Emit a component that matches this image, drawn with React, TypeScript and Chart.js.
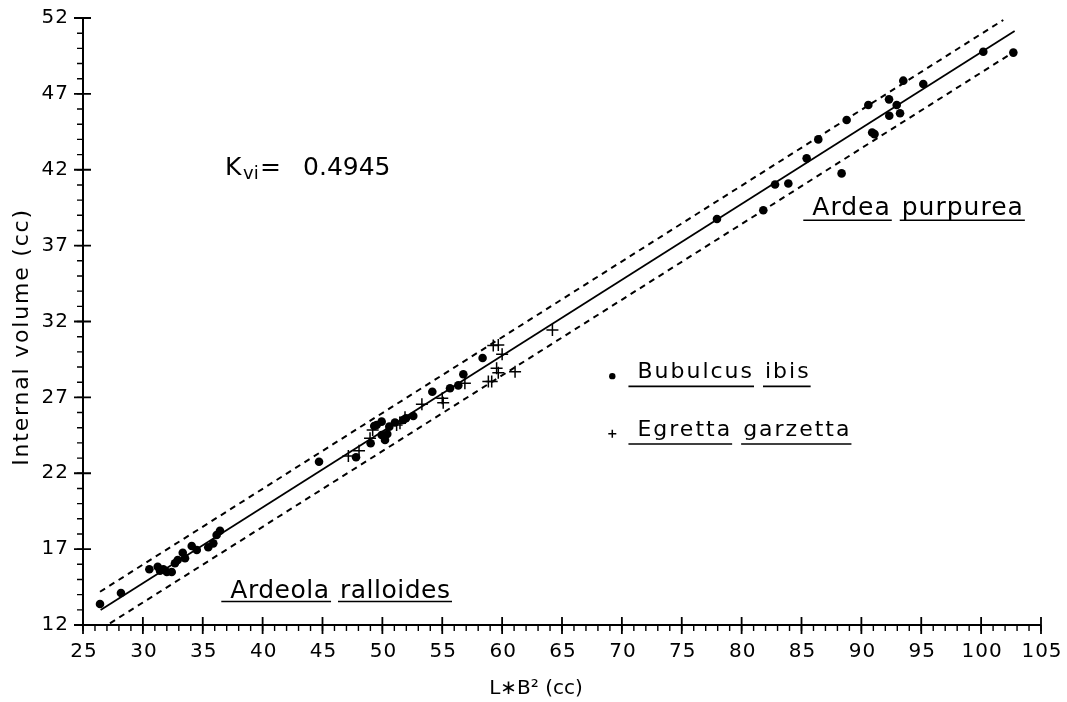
import React, { useEffect, useRef } from "react";
import { Chart, registerables } from "chart.js";

Chart.register(...registerables);

// Axis ticks
const xTicks = [25, 30, 35, 40, 45, 50, 55, 60, 65, 70, 75, 80, 85, 90, 95, 100, 105];
const yTicks = [12, 17, 22, 27, 32, 37, 42, 47, 52];

// Ardeola ralloides (dots)
const ardeolaX = [26.42, 28.17, 30.54, 31.24, 31.43, 31.71, 32.0, 32.41, 32.68, 32.91, 33.33, 33.52, 34.08, 34.5, 35.46, 35.88, 36.16, 36.44];
const ardeolaY = [13.38, 14.11, 15.67, 15.84, 15.58, 15.67, 15.49, 15.49, 16.07, 16.28, 16.76, 16.4, 17.21, 16.94, 17.12, 17.38, 17.93, 18.21];

// Bubulcus ibis (dots)
const bubulcusX = [44.71, 47.8, 49.02, 49.32, 49.52, 49.94, 49.94, 50.22, 50.41, 50.58, 51.05, 51.75, 51.97, 52.58, 54.17, 55.65, 56.34, 56.76, 58.37];
const bubulcusY = [22.76, 23.05, 23.98, 25.11, 25.18, 25.4, 24.52, 24.19, 24.59, 25.07, 25.34, 25.51, 25.62, 25.77, 27.37, 27.6, 27.79, 28.52, 29.59];

// Egretta garzetta (crosses)
const egrettaX = [47.16, 48.05, 48.97, 49.19, 51.19, 51.47, 51.89, 53.3, 55.0, 55.08, 56.89, 58.85, 59.13, 59.54, 59.68, 59.26, 59.68, 60.0, 61.08, 64.2];
const egrettaY = [23.14, 23.49, 24.31, 24.85, 25.18, 25.29, 25.69, 26.55, 26.94, 26.65, 27.93, 28.04, 28.04, 28.92, 28.62, 30.42, 30.45, 29.85, 28.69, 31.44];

// Ardea purpurea (dots)
const ardeaX = [77.94, 81.81, 82.79, 83.9, 85.43, 86.4, 88.35, 88.77, 90.58, 90.9, 91.1, 92.31, 92.33, 92.95, 93.23, 93.5, 95.17, 100.18, 102.69];
const ardeaY = [38.75, 39.33, 41.03, 41.09, 42.75, 44.0, 41.76, 45.28, 46.27, 44.45, 44.35, 46.64, 45.56, 46.27, 45.72, 47.87, 47.65, 49.78, 49.72];

// Regression line and limits
const fitX = [26.47, 102.8];
const fitY = [12.99, 51.14];
const upperX = [26.42, 101.85];
const upperY = [14.19, 51.87];
const lowerX = [27.25, 102.7];
const lowerY = [12.11, 49.75];

const toPts = (xs: number[], ys: number[]) => xs.map((x, i) => ({ x, y: ys[i] }));

const FONT = "'DejaVu Sans', 'Liberation Sans', sans-serif";

function drawUnderlined(
  ctx: CanvasRenderingContext2D,
  words: string[],
  x: number,
  baseline: number,
  size: number,
  spacing: number,
  ulOffset: number
) {
  ctx.font = `${size}px ${FONT}`;
  (ctx as any).letterSpacing = `${spacing}px`;
  ctx.textAlign = "left";
  ctx.textBaseline = "alphabetic";
  const spaceW = ctx.measureText(" ").width + spacing;
  let cx = x;
  ctx.lineWidth = 1.6;
  words.forEach((w, i) => {
    ctx.fillText(w, cx, baseline);
    const wd = ctx.measureText(w).width - spacing;
    ctx.beginPath();
    ctx.moveTo(cx - (i === 0 ? 9 : 2), baseline + ulOffset);
    ctx.lineTo(cx + wd + 2, baseline + ulOffset);
    ctx.stroke();
    cx += wd + spaceW + 2;
  });
  (ctx as any).letterSpacing = "0px";
}

const axesPlugin = {
  id: "handAxes",
  afterDraw(chart: any) {
    const ctx: CanvasRenderingContext2D = chart.ctx;
    const xs = chart.scales.x;
    const ys = chart.scales.y;
    const { left, right, top, bottom } = chart.chartArea;
    ctx.save();
    ctx.strokeStyle = "#000";
    ctx.fillStyle = "#000";

    // axis lines
    ctx.lineWidth = 2;
    ctx.beginPath();
    ctx.moveTo(left, top);
    ctx.lineTo(left, bottom);
    ctx.lineTo(right, bottom);
    ctx.stroke();

    // minor ticks
    ctx.lineWidth = 1.4;
    ctx.beginPath();
    for (let v = xs.min; v <= xs.max; v += 1) {
      const p = xs.getPixelForValue(v);
      ctx.moveTo(p, bottom);
      ctx.lineTo(p, bottom + 6);
    }
    for (let v = ys.min; v <= ys.max; v += 1) {
      const p = ys.getPixelForValue(v);
      ctx.moveTo(left, p);
      ctx.lineTo(left - 6, p);
    }
    ctx.stroke();

    // major ticks
    ctx.lineWidth = 1.8;
    ctx.beginPath();
    xs.ticks.forEach((t: any) => {
      const p = xs.getPixelForValue(t.value);
      ctx.moveTo(p, bottom - 8);
      ctx.lineTo(p, bottom + 9);
    });
    ys.ticks.forEach((t: any) => {
      const p = ys.getPixelForValue(t.value);
      ctx.moveTo(left - 9, p);
      ctx.lineTo(left + 8, p);
    });
    ctx.stroke();

    // tick labels
    ctx.font = `20px ${FONT}`;
    (ctx as any).letterSpacing = "1px";
    ctx.textAlign = "center";
    ctx.textBaseline = "alphabetic";
    xs.ticks.forEach((t: any) => {
      ctx.fillText(String(t.value), xs.getPixelForValue(t.value) + 1, bottom + 32);
    });
    ctx.textAlign = "right";
    ctx.textBaseline = "middle";
    ys.ticks.forEach((t: any) => {
      ctx.fillText(String(t.value), left - 14, ys.getPixelForValue(t.value));
    });
    (ctx as any).letterSpacing = "0px";

    // axis titles
    ctx.font = `20px ${FONT}`;
    ctx.textAlign = "center";
    ctx.textBaseline = "middle";
    ctx.fillText("L\u2217B\u00B2 (cc)", 536, 689);

    ctx.save();
    ctx.translate(22, 337);
    ctx.rotate(-Math.PI / 2);
    ctx.font = `22px ${FONT}`;
    (ctx as any).letterSpacing = "1.8px";
    ctx.fillText("Internal volume (cc)", 0, 0);
    ctx.restore();

    // K vi label
    ctx.textAlign = "left";
    ctx.textBaseline = "alphabetic";
    const kx = xs.getPixelForValue(36.86);
    const ky = ys.getPixelForValue(41.65);
    ctx.font = `25px ${FONT}`;
    ctx.fillText("K", kx, ky);
    ctx.font = `18px ${FONT}`;
    ctx.fillText("vi", kx + 18, ky + 4);
    ctx.font = `25px ${FONT}`;
    ctx.fillText("=", kx + 35, ky);
    ctx.fillText("0.4945", kx + 78, ky);

    // species labels
    drawUnderlined(ctx, ["Ardea", "purpurea"], xs.getPixelForValue(85.9), ys.getPixelForValue(39.0), 25, 1, 5);
    drawUnderlined(ctx, ["Ardeola", "ralloides"], xs.getPixelForValue(37.3), ys.getPixelForValue(13.75), 25, 0.5, 3);
    drawUnderlined(ctx, ["Bubulcus", "ibis"], xs.getPixelForValue(71.3), ys.getPixelForValue(28.25), 22, 2, 8);
    drawUnderlined(ctx, ["Egretta", "garzetta"], xs.getPixelForValue(71.3), ys.getPixelForValue(24.45), 22, 2, 8);

    // legend markers
    const bx = xs.getPixelForValue(69.2);
    ctx.beginPath();
    ctx.arc(bx, ys.getPixelForValue(28.4), 3.2, 0, Math.PI * 2);
    ctx.fill();
    const py = ys.getPixelForValue(24.6);
    ctx.lineWidth = 1.5;
    ctx.beginPath();
    ctx.moveTo(bx - 4, py);
    ctx.lineTo(bx + 4, py);
    ctx.moveTo(bx, py - 4);
    ctx.lineTo(bx, py + 4);
    ctx.stroke();

    ctx.restore();
  },
};

export default function App() {
  const ref = useRef<HTMLCanvasElement>(null);
  useEffect(() => {
    document.body.style.margin = "0";
    const dot = {
      pointStyle: "circle",
      pointRadius: 4.3,
      backgroundColor: "#000",
      borderColor: "#000",
      borderWidth: 0,
      showLine: false,
    };
    const chart = new Chart(ref.current as HTMLCanvasElement, {
      type: "scatter",
      data: {
        datasets: [
          { label: "fit", data: toPts(fitX, fitY), showLine: true, borderColor: "#000", borderWidth: 1.8, pointRadius: 0 },
          { label: "upper", data: toPts(upperX, upperY), showLine: true, borderColor: "#000", borderWidth: 2, borderDash: [6, 5], pointRadius: 0 },
          { label: "lower", data: toPts(lowerX, lowerY), showLine: true, borderColor: "#000", borderWidth: 2, borderDash: [6, 5], pointRadius: 0 },
          { label: "Ardeola ralloides", data: toPts(ardeolaX, ardeolaY), ...dot },
          { label: "Bubulcus ibis", data: toPts(bubulcusX, bubulcusY), ...dot },
          { label: "Ardea purpurea", data: toPts(ardeaX, ardeaY), ...dot },
          {
            label: "Egretta garzetta",
            data: toPts(egrettaX, egrettaY),
            pointStyle: "cross",
            pointRadius: 6,
            borderColor: "#000",
            borderWidth: 1.5,
            showLine: false,
          },
        ] as any,
      },
      options: {
        responsive: false,
        animation: false,
        devicePixelRatio: 1,
        layout: { padding: { top: 18, right: 26, left: 0, bottom: 0 } },
        plugins: { legend: { display: false }, tooltip: { enabled: false } },
        scales: {
          x: {
            type: "linear",
            min: 25,
            max: 105,
            grid: { display: false, drawTicks: false },
            border: { display: false },
            ticks: { display: false },
            afterBuildTicks: (s: any) => {
              s.ticks = xTicks.map((v) => ({ value: v }));
            },
            afterFit: (s: any) => {
              s.height = 77;
            },
          },
          y: {
            type: "linear",
            min: 12,
            max: 52,
            grid: { display: false, drawTicks: false },
            border: { display: false },
            ticks: { display: false },
            afterBuildTicks: (s: any) => {
              s.ticks = yTicks.map((v) => ({ value: v }));
            },
            afterFit: (s: any) => {
              s.width = 83;
            },
          },
        },
      } as any,
      plugins: [axesPlugin],
    });
    return () => chart.destroy();
  }, []);
  return <canvas ref={ref} width={1067} height={702} style={{ display: "block" }} />;
}
